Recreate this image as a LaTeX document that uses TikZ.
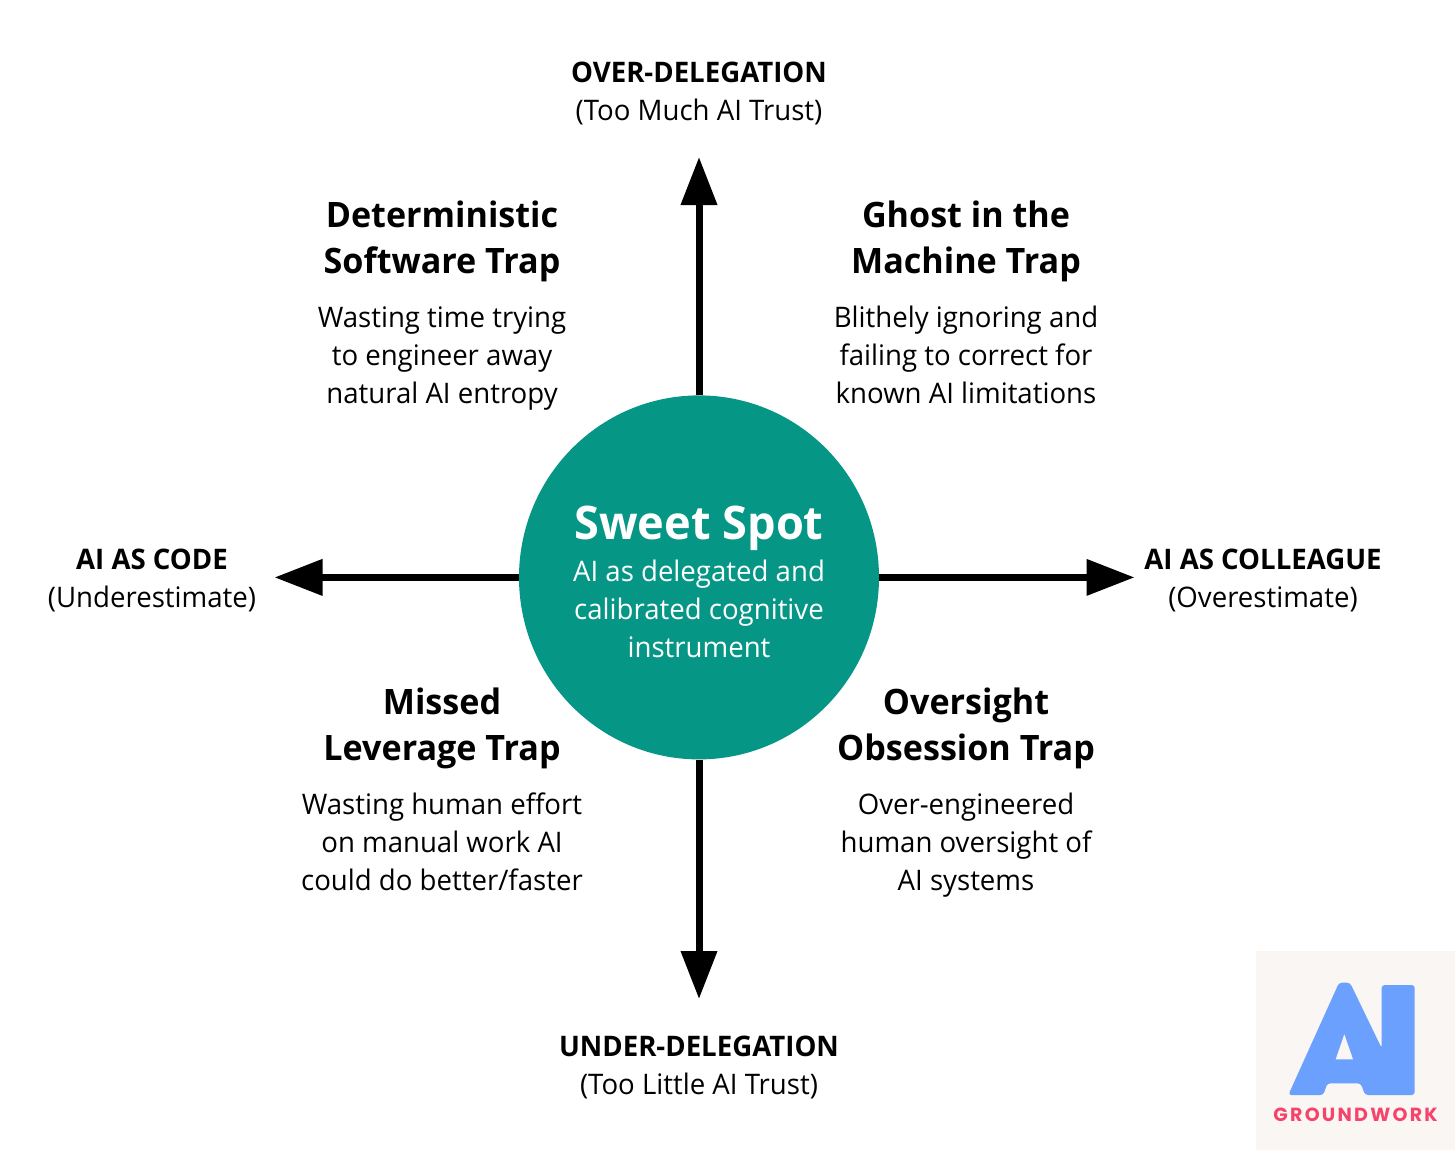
\documentclass[tikz,border=0pt]{standalone}
\usepackage{fontspec}
\setmainfont{Open Sans}[FakeStretch=0.975]
\newfontfamily\logofont{Poppins}
\usetikzlibrary{arrows.meta,shapes.geometric}
\definecolor{teal}{HTML}{069686}
\definecolor{logobg}{HTML}{FAF6F3}
\definecolor{logoblue}{HTML}{6CA0FF}
\definecolor{logored}{HTML}{F5436B}
\tikzset{
  x=1pt,y=-1pt,
  txt/.style={inner sep=0pt,align=center,text=black,execute at begin node=\strut,execute at end node=\strut},
  titlebox/.style={txt,font=\fontsize{35}{46}\selectfont\bfseries},
  descbox/.style={txt,font=\fontsize{28.3}{38}\selectfont},
  axisbox/.style={txt,font=\fontsize{28.3}{38}\selectfont},
  axis/.style={line width=7pt,-{Triangle[length=48pt,width=35pt]}},
}
\newcommand{\axhead}[1]{\textbf{\fontsize{28.3}{38}\selectfont #1}}
\begin{document}
\begin{tikzpicture}
\useasboundingbox (0,0) rectangle (1456,1151);
\node[ellipse,fill=teal,minimum width=360pt,minimum height=364pt,inner sep=0pt] (hub) at (699,577.4) {};
\coordinate (tipN) at (699,157);
\coordinate (tipS) at (699,999);
\coordinate (tipW) at (274.5,577.4);
\coordinate (tipE) at (1134.5,577.4);
\draw[axis] (hub.north) -- (tipN);
\draw[axis] (hub.south) -- (tipS);
\draw[axis] (hub.west) -- (tipW);
\draw[axis] (hub.east) -- (tipE);
\node[txt,text=white,font=\fontsize{46.3}{50}\selectfont\bfseries] (hubtitle) at (699,529) {Sweet Spot};
\node[txt,text=white,font=\fontsize{28.3}{38}\selectfont] (hubtext) at (699,614) {AI as delegated and\\calibrated cognitive\\instrument};
\node[axisbox] (north) at (699,96.5) {\axhead{OVER-DELEGATION}\\(Too Much AI Trust)};
\node[axisbox] (south) at (699,1070.5) {\axhead{UNDER-DELEGATION}\\(Too Little AI Trust)};
\node[axisbox] (west) at (152,583.5) {\axhead{AI AS CODE}\\(Underestimate)};
\node[axisbox] (east) at (1263,583.5) {\axhead{AI AS COLLEAGUE}\\(Overestimate)};
\node[titlebox] (t1) at (442,244) {Deterministic\\Software Trap};
\node[descbox] (d1) at (442,361) {Wasting time trying\\to engineer away\\natural AI entropy};
\node[titlebox] (t2) at (966,244) {Ghost in the\\Machine Trap};
\node[descbox] (d2) at (966,360) {Blithely ignoring and\\failing to correct for\\known AI limitations};
\node[titlebox] (t3) at (442,731) {Missed\\Leverage Trap};
\node[descbox] (d3) at (442,847.5) {Wasting human effort\\on manual work AI\\could do better/faster};
\node[titlebox] (t4) at (966,731) {Oversight\\Obsession Trap};
\node[descbox] (d4) at (966,847) {Over-engineered\\human oversight of\\AI systems};
% logo
\fill[logobg] (1256,951) rectangle (1455,1150);
\fill[logoblue,rounded corners=3pt]
  (1339,982.7) -- (1350,982.7) -- (1381.7,1048.3) -- (1381.7,985) -- (1414.7,985) -- (1414.7,1095) -- (1365,1095) -- (1360.7,1083.3) -- (1327.3,1083.3) -- (1323.3,1095) -- (1288.3,1095) -- cycle;
\fill[logobg] (1344.3,1034.3) -- (1335.7,1059.3) -- (1353,1059.3) -- cycle;
\node[inner sep=0pt,text=logored,font=\logofont\fontsize{19}{20}\selectfont\bfseries] (logotext) at (1355.5,1114.5) {\addfontfeature{LetterSpace=12}GROUNDWORK};
\end{tikzpicture}
\end{document}
